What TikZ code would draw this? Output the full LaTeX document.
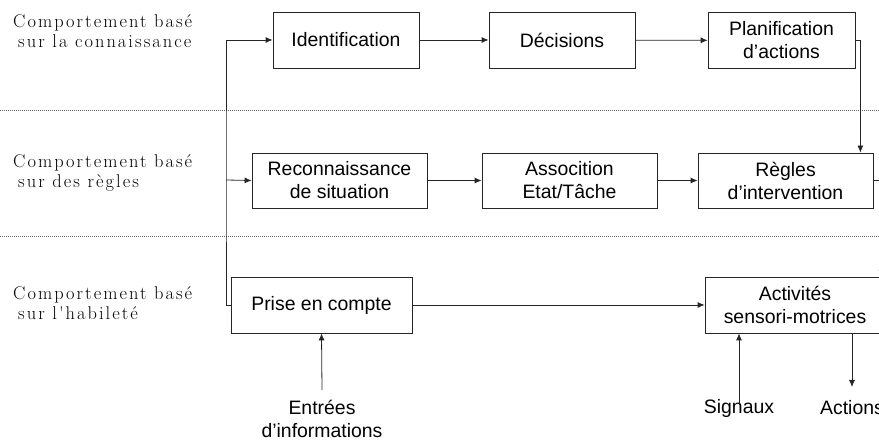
\documentclass[tikz,border=0pt]{standalone}
\usepackage{fontspec}
\newfontfamily\arial{Liberation Sans}
\newfontfamily\lmsp[LetterSpace=11]{Latin Modern Roman}
\usetikzlibrary{arrows.meta,calc}
\tikzset{
  box/.style={draw=black!85, line width=0.8bp, rectangle, inner sep=0pt, minimum height=56bp, align=center, font=\arial\fontsize{19.5}{23}\selectfont},
  lbl/.style={inner sep=0pt, align=center, font=\arial\fontsize{19.5}{23}\selectfont},
  lvl/.style={inner sep=0pt, anchor=north west, align=left, font=\lmsp\fontsize{18.5}{20}\selectfont},
  arr/.style={draw=black!85, line width=0.8bp, -{Latex[length=7bp,width=6bp]}},
  sep/.style={draw=black!60, line width=0.6bp, dash pattern=on 1bp off 1bp},
}
\begin{document}
\begin{tikzpicture}[x=1bp,y=-1bp]
\useasboundingbox (0,0) rectangle (879,441);
% level separators
\coordinate (s1a) at (0,110); \coordinate (s1b) at (879,110);
\coordinate (s2a) at (0,236); \coordinate (s2b) at (879,236);
\draw[sep] (s1a) -- (s1b);
\draw[sep] (s2a) -- (s2b);
% level labels
\node[lvl] (l1) at (13,14) {Comportement basé\\\hspace*{5bp}sur la connaissance};
\node[lvl] (l2) at (13,154) {Comportement basé\\\hspace*{5bp}sur des règles};
\node[lvl] (l3) at (13,286) {Comportement basé\\\hspace*{5bp}sur l'habileté};
% boxes
\node[box, minimum width=146bp] (ident) at (346,40) {Identification};
\node[box, minimum width=146bp] (dec) at (562,40) {Décisions};
\node[box, minimum width=147bp] (plan) at (781.5,40.5) {Planification\\d’actions};
\node[box, minimum width=175bp, minimum height=55bp] (reco) at (339.5,180.5) {Reconnaissance\\de situation};
\node[box, minimum width=175bp, minimum height=55bp] (assoc) at (569.5,180.5) {Assocition\\Etat/Tâche};
\node[box, minimum width=175bp, minimum height=55bp] (regles) at (785.5,180.5) {Règles\\d’intervention};
\node[box, minimum width=181bp] (prise) at (321.5,305) {Prise en compte};
\node[box, minimum width=180bp] (activ) at (795,305) {Activités\\sensori-motrices};
% inputs / outputs
\node[lbl] (entrees) at (322,418.5) {Entrées\\d’informations};
\node[lbl] (signaux) at (739,408) {Signaux};
\node[lbl] (actions) at (852,408) {Actions};
% connectors
\coordinate (tk) at (226,180);
\draw[arr] (prise.west) -| (tk) |- (ident.west);
\draw[arr] (tk) -- (reco.west);
\draw[arr] (ident) -- (dec);
\draw[arr] (dec) -- (plan);
\draw[arr] (plan.east) -| ([xshift=-13bp]regles.north east);
\draw[arr] (reco) -- (assoc);
\draw[arr] (assoc) -- (regles);
\draw[arr] (regles.east) -| ([xshift=-4bp]activ.north east);
\draw[arr] (prise) -- (activ);
\coordinate (ein) at (322,390);
\draw[arr] (ein) -- (prise.south);
\draw[arr] ([yshift=-6bp]signaux.north) -- (signaux.north |- activ.south);
\coordinate (aout) at (852,387);
\draw[arr] (aout |- activ.south) -- (aout);
\end{tikzpicture}
\end{document}
